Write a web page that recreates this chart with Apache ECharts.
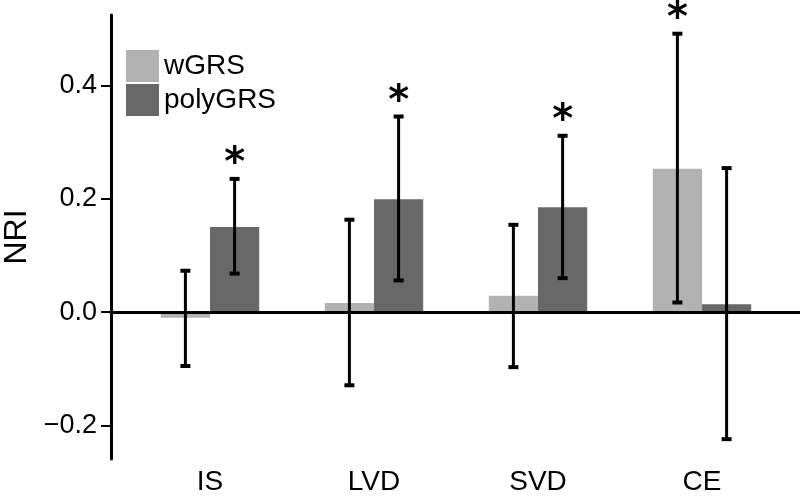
<!DOCTYPE html>
<html>
<head>
<meta charset="utf-8">
<script src="https://cdn.jsdelivr.net/npm/echarts@6/dist/echarts.min.js"></script>
<style>
html,body{margin:0;padding:0;background:#fff;}
#chart{width:800px;height:497px;}
</style>
</head>
<body>
<div id="chart"></div>
<script>
const categories = ['IS', 'LVD', 'SVD', 'CE'];
const seriesNames = ['wGRS', 'polyGRS'];
const wGRS = [-0.010, 0.016, 0.029, 0.253];
const polyGRS = [0.150, 0.199, 0.185, 0.014];
const wGRSLow = [-0.095, -0.129, -0.097, 0.017];
const wGRSHigh = [0.073, 0.163, 0.154, 0.491];
const polyLow = [0.068, 0.056, 0.060, -0.224];
const polyHigh = [0.235, 0.345, 0.311, 0.254];
const wGRSSig = [false, false, false, true];
const polySig = [true, true, true, false];
const yTicks = [-0.2, 0.0, 0.2, 0.4];
const yMin = -0.259;
const yMax = 0.524;

const FONT = 'Liberation Sans, Arial, Helvetica, sans-serif';
const colors = ['#b2b2b2', '#686868'];

function errData(low, high, sig) {
  return categories.map((c, i) => [i, low[i], high[i], sig[i] ? 1 : 0]);
}

function makeErrRender(side) {
  return function (params, api) {
    const i = api.value(0);
    const lo = api.value(1);
    const hi = api.value(2);
    const sig = api.value(3);
    const pHi = api.coord([i, hi]);
    const pLo = api.coord([i, lo]);
    const band = api.size([1, 0])[0];
    const cx = pHi[0] + side * band * 0.15;
    const cap = 5;
    const children = [
      { type: 'line', shape: { x1: cx, y1: pHi[1], x2: cx, y2: pLo[1] }, style: { stroke: '#000', lineWidth: 3 } },
      { type: 'line', shape: { x1: cx - cap, y1: pHi[1], x2: cx + cap, y2: pHi[1] }, style: { stroke: '#000', lineWidth: 4 } },
      { type: 'line', shape: { x1: cx - cap, y1: pLo[1], x2: cx + cap, y2: pLo[1] }, style: { stroke: '#000', lineWidth: 4 } }
    ];
    if (sig) {
      children.push({
        type: 'text',
        x: cx, y: pHi[1] + 6,
        style: {
          text: '*', fill: '#000',
          font: 'bold 40px "DejaVu Sans", sans-serif',
          align: 'center', verticalAlign: 'bottom'
        }
      });
    }
    return { type: 'group', children: children };
  };
}

const chart = echarts.init(document.getElementById('chart'), null, { renderer: 'canvas' });
chart.setOption({
  backgroundColor: '#fff',
  animation: false,
  textStyle: { fontFamily: FONT },
  legend: {
    data: seriesNames,
    orient: 'vertical',
    left: 126, top: 50,
    itemWidth: 33, itemHeight: 32, itemGap: 2,
    icon: 'rect',
    textStyle: { fontSize: 28, color: '#000', fontFamily: FONT },
    padding: 0
  },
  grid: [
    { left: 111, right: 0, top: 15, bottom: 38, outerBoundsMode: 'none', containLabel: false },
    { left: 128, right: 16, top: 15, bottom: 38, outerBoundsMode: 'none', containLabel: false }
  ],
  xAxis: [
    {
      type: 'value', gridIndex: 0, min: 0, max: 1, z: 5,
      axisLine: { show: true, onZero: true, lineStyle: { color: '#000', width: 3 } },
      axisTick: { show: false }, axisLabel: { show: false }, splitLine: { show: false }
    },
    {
      type: 'category', gridIndex: 1, data: categories,
      axisLine: { show: false, onZero: false },
      axisTick: { show: false },
      axisLabel: { fontSize: 28, color: '#000', margin: 9, fontFamily: FONT },
      splitLine: { show: false }
    }
  ],
  yAxis: [
    {
      type: 'value', gridIndex: 0, min: yMin, max: yMax,
      name: 'NRI', nameLocation: 'middle', nameGap: 77, nameRotate: 90,
      nameTextStyle: { fontSize: 32, color: '#000', fontFamily: FONT },
      axisLine: { show: true, onZero: false, lineStyle: { color: '#000', width: 3 } },
      axisTick: { show: true, length: 10, lineStyle: { color: '#000', width: 2 }, customValues: yTicks },
      axisLabel: {
        fontSize: 27, color: '#000', margin: 14, fontFamily: FONT,
        customValues: yTicks,
        formatter: v => (v < -1e-9 ? '\u2212' : '') + Math.abs(v).toFixed(1)
      },
      splitLine: { show: false }
    },
    {
      type: 'value', gridIndex: 1, min: yMin, max: yMax, show: false,
      splitLine: { show: false }
    }
  ],
  series: [
    {
      name: seriesNames[0], type: 'bar', xAxisIndex: 1, yAxisIndex: 1,
      data: wGRS, barWidth: '30%', barGap: '0%',
      itemStyle: { color: colors[0] }
    },
    {
      name: seriesNames[1], type: 'bar', xAxisIndex: 1, yAxisIndex: 1,
      data: polyGRS, barWidth: '30%', barGap: '0%',
      itemStyle: { color: colors[1] }
    },
    {
      type: 'custom', xAxisIndex: 1, yAxisIndex: 1, z: 10,
      renderItem: makeErrRender(-1), data: errData(wGRSLow, wGRSHigh, wGRSSig)
    },
    {
      type: 'custom', xAxisIndex: 1, yAxisIndex: 1, z: 10,
      renderItem: makeErrRender(1), data: errData(polyLow, polyHigh, polySig)
    }
  ]
});
</script>
</body>
</html>
